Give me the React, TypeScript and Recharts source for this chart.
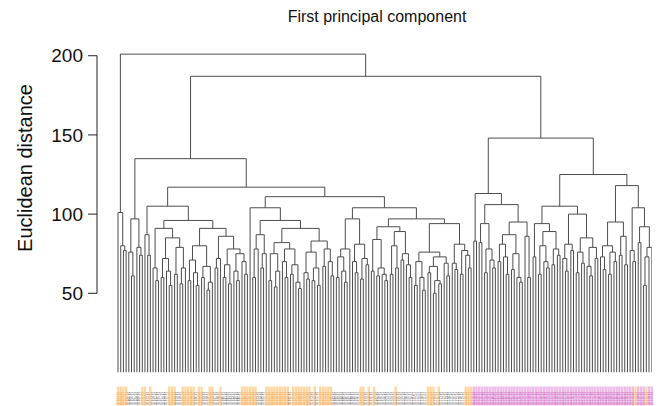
import React from 'react';
import { LineChart, Line, XAxis, YAxis, ReferenceLine } from 'recharts';

// Dendrogram written as nested merges: "(a b)h" joins a and b at height h, "x" is one sample.
const clusterA = "(x (x (x x)77)80)101";
const clusterB = "((x (x x)61)76 (x (x x)74)79)97";
const clusterD1 = "(x (x x)74)87";
const clusterD2a1 = "(x (x x)58)66";
const clusterD2a2 = "((x x)60 (x (x x)55)64)72";
const clusterD2a3 = "((x x)62 ((x x)56 x)66)79";
const clusterD2b1 = "(((x x)58 (x (x x)55)63)71 ((x x)60 ((x x)52 x)57)67)80";
const clusterD2b2 = "((x x)66 x)72";
const clusterD2b3 = "(((x x)60 (x x)56)68 ((x (x x)58)64 (x (x x)62)70)75)78";
const clusterE1b1 = "(((x x)60 x)78 ((x x)66 x)75)87";
const clusterE1b2 = "((x x)58 ((x x)54 x)64)75";
const clusterE1b3 = "((x (x x)60)70 ((x x)62 (x (x x)53)57)68)78";
const clusterE1b4 = "((x (x x)59)63 ((x x)58 (x x)55)66)76";
const clusterE1b5 = "((x x)67 (x (x x)61)70)78";
const clusterE2a1 = "(((x x)60 (x (x x)57)64)73 x)78";
const clusterE2a2 = "((x (x x)63)70 ((x x)59 (x x)68)72)81";
const clusterE2b1 = "((x x)64 ((x x)61 (x (x x)58)62)66)84";
const clusterE2b2 = "(((x x)62 (x x)66)80 ((x x)71 (x (x x)60)68)75)89";
const clusterE2b3 = "(((x x)55 (x (x x)52)60)70 (((x x)63 ((x x)50 (x x)56)58)67 (x (x x)61)69)73)76";
const clusterE2b4 = "((x (x x)65)69 ((x x)62 (x (x x)66)74)77)81";
const clusterF1 = "(x x)83";
const clusterF2 = "((x x)82 ((x x)63 (x (x x)66)71)78)94";
const clusterF3 = "(((x x)70 (x (x x)62)73)81 ((x x)65 (x (x x)57)60)75)87";
const clusterF4 = "(x (x x)60)86";
const clusterG1 = "(x x)73";
const clusterG2 = "(((x x)62 (x (x x)66)70)80 ((x x)68 (x x)74)78)89";
const clusterG3 = "((x (x x)64)72 (x x)77)81";
const clusterG4 = "(((x x)63 (x x)69)76 ((x (x x)61)67 (x x)72)79)85";
const clusterG5 = "((x (x x)65)73 ((x x)62 (x x)70)76)80";
const clusterG6 = "((x x)74 (x x)68)86";
const clusterG7 = "(x (x x)70)77";
const clusterG8 = "((x x)82 (((x x)55 x)73 x)79)92";

const clusterD = `(${clusterD1} ((${clusterD2a1} (${clusterD2a2} ${clusterD2a3})85)91 (${clusterD2b1} (${clusterD2b2} ${clusterD2b3})86)91)96)105`;
const clusterE1 = `(x (${clusterE1b1} ((${clusterE1b2} ${clusterE1b3})82 (${clusterE1b4} ${clusterE1b5})83)91)96)104`;
const clusterE2 = `((${clusterE2a1} ${clusterE2a2})97 ((${clusterE2b1} ${clusterE2b2})92 (${clusterE2b3} ${clusterE2b4})94)97)104`;
const clusterF = `(${clusterF1} (${clusterF2} (${clusterF3} ${clusterF4})95)106)113`;
const clusterG = `(((${clusterG1} ${clusterG2})94 (${clusterG3} ${clusterG4})100)105 ((${clusterG5} ${clusterG6})95 (${clusterG7} ${clusterG8})104)118)125`;
const treeSource = `(${clusterA} ((${clusterB} (${clusterD} (${clusterE1} ${clusterE2})111)117)135 (${clusterF} ${clusterG})148)187)201`;

// sample groups along the bottom, as runs: o = orange, g = grey, p = pink
const labelRuns: [string, number][] = [
    ['o', 4], ['g', 5], ['o', 2], ['g', 1], ['o', 1], ['g', 6], ['o', 3], ['g', 2], ['o', 5], ['g', 1],
    ['o', 2], ['g', 2], ['o', 2], ['g', 2], ['o', 1], ['g', 7], ['o', 6], ['g', 3], ['o', 9], ['g', 1],
    ['o', 7], ['g', 1], ['o', 1], ['g', 1], ['o', 5], ['g', 10], ['o', 2], ['g', 1], ['o', 1], ['g', 1],
    ['o', 1], ['g', 7], ['o', 1], ['g', 11], ['o', 3], ['g', 1], ['o', 1], ['g', 9], ['o', 3], ['p', 60],
    ['o', 1], ['p', 3], ['o', 1], ['p', 2],
];

const yTicks = [50, 100, 150, 200];

const groupStyle: Record<string, { bg?: string; fg: string }> = {
    o: { bg: '#ffd7a3', fg: '#f3a85a' },
    g: { fg: '#666' },
    p: { bg: '#edbde7', fg: '#c964bd' },
};

type TreeNode = { h: number; kids?: TreeNode[]; x?: number };

function parseTree(src: string): TreeNode {
    let pos = 0;
    const skip = () => { while (src[pos] === ' ') pos++; };
    const read = (): TreeNode => {
        skip();
        if (src[pos] === 'x') { pos++; return { h: 0 }; }
        pos++; // (
        const kids: TreeNode[] = [];
        skip();
        while (src[pos] !== ')') { kids.push(read()); skip(); }
        pos++;
        let num = '';
        while (pos < src.length && /[0-9.]/.test(src[pos])) num += src[pos++];
        return { h: parseFloat(num), kids };
    };
    return read();
}

function layoutTree(root: TreeNode) {
    const rows: { x: number; y: number | null }[] = [];
    let leaf = 0;
    const place = (n: TreeNode) => {
        if (!n.kids) { n.x = leaf++; return; }
        n.kids.forEach(place);
        const a = n.kids[0];
        const b = n.kids[n.kids.length - 1];
        n.x = ((a.x as number) + (b.x as number)) / 2;
        rows.push(
            { x: a.x as number, y: a.h },
            { x: a.x as number, y: n.h },
            { x: b.x as number, y: n.h },
            { x: b.x as number, y: b.h },
            { x: b.x as number, y: null },
        );
    };
    place(root);
    return { rows, leafCount: leaf };
}

const { rows, leafCount } = layoutTree(parseTree(treeSource));
const leafGroups: string[] = labelRuns.flatMap(([g, n]) => Array(n).fill(g));
const leafTicks = Array.from({ length: leafCount }, (_, i) => i);
const axisX = -7.8; // y axis sits a little left of the first sample

const LeafLabel = (props: any) => {
    const { x, y, payload } = props;
    const i = payload.value as number;
    const st = groupStyle[leafGroups[i] ?? 'g'];
    return (
        <g>
            {st.bg && <rect x={x - 1.2} y={y} width={2.4} height={19} fill={st.bg} />}
            <text
                transform={`translate(${x + 0.9},${y + 18.5}) rotate(-90)`}
                fontSize={3}
                fill={st.fg}
                fontFamily="Liberation Sans, Arial, sans-serif"
            >
                {`ID-${String(i + 1).padStart(3, '0')}-01`}
            </text>
        </g>
    );
};

const App = () => {
    return (
        <div style={{ position: 'fixed', left: 0, top: 0, width: 660, height: 406, background: '#fff', fontFamily: 'Liberation Sans, Arial, sans-serif' }}>
            <div style={{ position: 'absolute', left: 177, top: 9, width: 400, textAlign: 'center', fontSize: 16, lineHeight: '16px', color: '#111' }}>
                First principal component
            </div>
            <div style={{ position: 'absolute', left: 25, top: 168, width: 0, height: 0 }}>
                <div style={{ position: 'absolute', left: -110, top: -11, width: 220, textAlign: 'center', fontSize: 20, lineHeight: '22px', transform: 'rotate(-90deg)', color: '#111' }}>
                    Euclidean distance
                </div>
            </div>
            <LineChart
                width={660}
                height={406}
                data={rows}
                margin={{ top: 47.8, right: 8.3, bottom: 0, left: 0 }}
                style={{ position: 'absolute', left: 0, top: 0 }}
            >
                <XAxis
                    type="number"
                    dataKey="x"
                    domain={[axisX, leafCount - 1]}
                    ticks={leafTicks}
                    interval={0}
                    tick={LeafLabel}
                    tickLine={false}
                    axisLine={false}
                    tickSize={0}
                    tickMargin={14}
                    height={33.5}
                    allowDataOverflow
                />
                <YAxis
                    type="number"
                    domain={[0, 205]}
                    ticks={yTicks}
                    axisLine={false}
                    tickSize={9}
                    tickMargin={5}
                    width={97}
                    tickLine={{ stroke: '#222' }}
                    tick={{ fontSize: 19, fill: '#111', fontFamily: 'Liberation Sans, Arial, sans-serif' }}
                    allowDataOverflow
                />
                <ReferenceLine
                    segment={[{ x: axisX, y: 50 }, { x: axisX, y: 200 }]}
                    stroke="#222"
                    ifOverflow="visible"
                />
                <Line
                    dataKey="y"
                    stroke="#4d4d4d"
                    strokeWidth={1}
                    dot={false}
                    activeDot={false}
                    connectNulls={false}
                    isAnimationActive={false}
                />
            </LineChart>
        </div>
    );
};

export default App;
